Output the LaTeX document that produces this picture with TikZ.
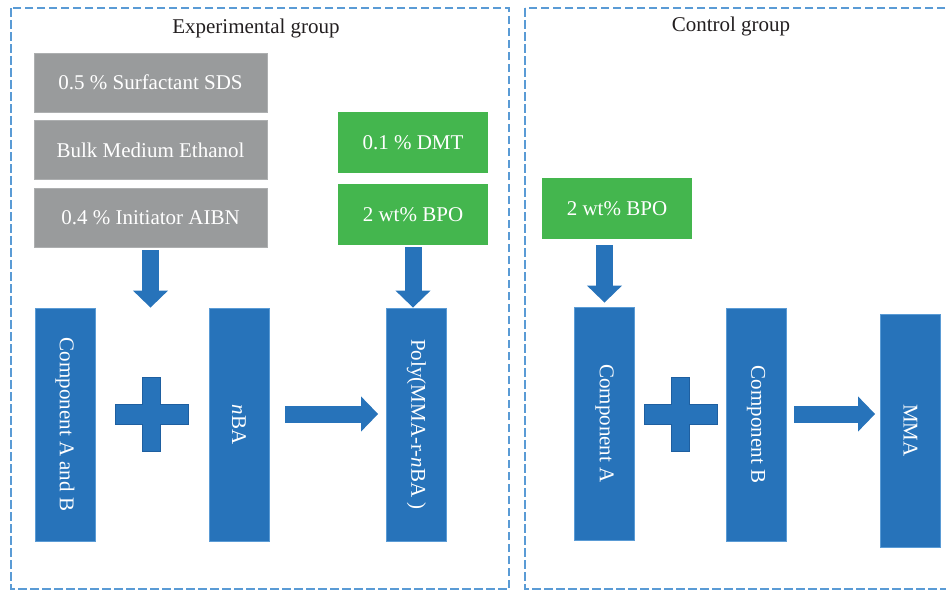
\documentclass[tikz,border=0pt]{standalone}
\usepackage{fontspec}
\setmainfont{Liberation Serif}
\usepackage{tikz}
\usetikzlibrary{arrows.meta}

\definecolor{boxgray}{RGB}{153,155,156}
\definecolor{boxgreen}{RGB}{68,182,78}
\definecolor{boxblue}{RGB}{39,115,186}
\definecolor{edgeblue}{RGB}{90,155,213}
\definecolor{plusedge}{RGB}{30,95,160}
\definecolor{titletext}{RGB}{35,31,32}

\newcommand{\plussign}[1]{%
  \filldraw[fill=boxblue,draw=plusedge,line width=0.8pt,shift={(#1)}]
    (-9,-37) -- (9,-37) -- (9,-10) -- (36.5,-10) -- (36.5,10) -- (9,10)
    -- (9,37) -- (-9,37) -- (-9,10) -- (-36.5,10) -- (-36.5,-10) -- (-9,-10) -- cycle;
}

\begin{document}
\begin{tikzpicture}[x=1pt,y=-1pt,
  txt/.style={font=\fontsize{21}{25}\selectfont},
  grp/.style={draw=edgeblue,line width=1.3pt,dash pattern=on 8.5pt off 3.5pt},
  graybox/.style={txt,fill=boxgray,draw=boxgray!80!white,line width=0.8pt,text=white,
    minimum width=233pt,minimum height=59pt,inner sep=0pt},
  greenbox/.style={txt,fill=boxgreen,text=white,
    minimum width=150pt,minimum height=61pt,inner sep=0pt},
  bluebox/.style={txt,fill=boxblue,draw=edgeblue,line width=0.8pt,text=white,
    minimum width=60pt,minimum height=233pt,inner sep=0pt},
  blockarrow/.style={draw=boxblue,line width=17pt,
    -{Triangle[width=34pt 0,length=17pt 0]}}]
  \useasboundingbox (0,0) rectangle (946,590);

  % the two groups
  \draw[grp] (11,8) rectangle (509,589);
  \draw[grp] (525,8) rectangle (952,589);
  \node[txt,text=titletext,anchor=base] (exptitle) at (256,33) {Experimental group};
  \node[txt,text=titletext,anchor=base] (ctrltitle) at (731,31) {Control group};

  % experimental group
  \node[graybox] (sds) at (150.5,82.5) {0.5 \% Surfactant SDS};
  \node[graybox] (ethanol) at (150.5,150) {Bulk Medium Ethanol};
  \node[graybox] (aibn) at (150.5,217.5) {0.4 \% Initiator AIBN};
  \node[greenbox] (dmt) at (413,142.5) {0.1 \% DMT};
  \node[greenbox] (bpo) at (413,214.5) {2 wt\% BPO};

  \node[bluebox] (compab) at (65,424.5) {\rotatebox{-90}{Component A and B}};
  \node[bluebox] (nba) at (239,424.5) {\rotatebox{-90}{\textit{n}BA}};
  \node[bluebox] (poly) at (416.5,424.5) {\rotatebox{-90}{Poly(MMA-r-\textit{n}BA )}};

  \coordinate (plusexp) at (151.5,414);
  \plussign{plusexp}
  \coordinate (mixexp) at (aibn.south |- compab.north);
  \draw[blockarrow,shorten <=3pt] (aibn.south) -- (mixexp);
  \draw[blockarrow,shorten <=2pt] (bpo.south) -- (bpo.south |- poly.north);
  \draw[blockarrow,shorten <=16pt,shorten >=8pt]
    ([yshift=10.5pt]nba.east) -- ([yshift=10.5pt]nba.east -| poly.west);

  % control group
  \node[greenbox] (bpoctrl) at (617,208.5) {2 wt\% BPO};
  \node[bluebox] (compa) at (604.5,423.5) {\rotatebox{-90}{Component A}};
  \node[bluebox] (compb) at (756,424.5) {\rotatebox{-90}{Component B}};
  \node[bluebox] (mma) at (910.5,430.5) {\rotatebox{-90}{MMA}};

  \coordinate (plusctrl) at (680.5,414);
  \plussign{plusctrl}
  \draw[blockarrow,shorten <=6pt,shorten >=4pt] (compa.north |- bpoctrl.south) -- (compa.north);
  \draw[blockarrow,shorten <=8pt,shorten >=5pt]
    ([yshift=10.5pt]compb.east) -- ([yshift=10.5pt]compb.east -| mma.west);
\end{tikzpicture}
\end{document}
